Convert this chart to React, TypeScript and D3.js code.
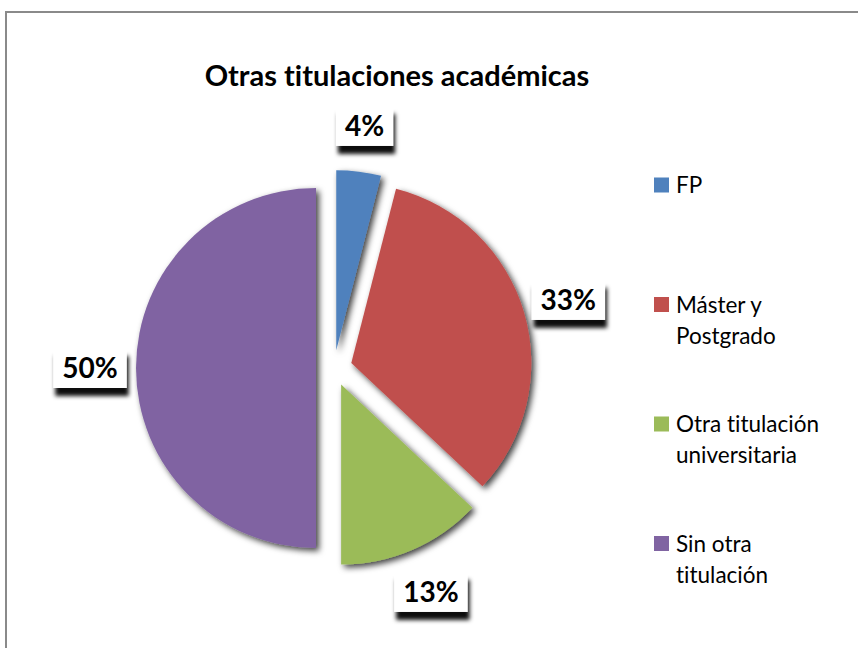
import * as d3 from "d3";
import { useEffect, useRef } from "react";

const categories = ["FP", "Máster y Postgrado", "Otra titulación universitaria", "Sin otra titulación"];
const legendLines = [["FP"], ["Máster y", "Postgrado"], ["Otra titulación", "universitaria"], ["Sin otra", "titulación"]];
const values = [4, 33, 13, 50];
const colors = ["#4F81BD", "#C0504D", "#9BBB59", "#8064A2"];

export default function App() {
  const ref = useRef(null);

  useEffect(() => {
    var width = 858;
    var height = 648;
    var radius = 180;
    var explode = 18;
    var cx = 334;
    var cy = 368;
    var font = "Lato, 'Noto Sans', sans-serif";

    var svg = d3
      .select(ref.current)
      .append("svg")
      .attr("width", width)
      .attr("height", height)
      .style("position", "absolute")
      .style("left", 0)
      .style("top", 0)
      .style("background", "white")
      .style("font-variant-ligatures", "none");

    var defs = svg.append("defs");
    defs
      .append("filter")
      .attr("id", "sliceShadow")
      .attr("x", "-20%")
      .attr("y", "-20%")
      .attr("width", "140%")
      .attr("height", "140%")
      .append("feDropShadow")
      .attr("dx", 3)
      .attr("dy", 3)
      .attr("stdDeviation", 3)
      .attr("flood-color", "black")
      .attr("flood-opacity", 0.75);
    defs
      .append("filter")
      .attr("id", "boxShadow")
      .attr("x", "-30%")
      .attr("y", "-30%")
      .attr("width", "160%")
      .attr("height", "180%")
      .append("feDropShadow")
      .attr("dx", 2)
      .attr("dy", 8)
      .attr("stdDeviation", 2)
      .attr("flood-color", "black")
      .attr("flood-opacity", 0.95);

    // chart border (runs off the right and bottom edges)
    svg
      .append("rect")
      .attr("x", 6)
      .attr("y", 12)
      .attr("width", width + 20)
      .attr("height", height + 20)
      .attr("fill", "white")
      .attr("stroke", "#8a8a8a")
      .attr("stroke-width", 2);

    svg
      .append("text")
      .attr("x", 397)
      .attr("y", 86)
      .attr("text-anchor", "middle")
      .style("font-family", font)
      .style("font-weight", "bold")
      .style("font-size", "29px")
      .text("Otras titulaciones académicas");

    var pie = d3
      .pie<number>()
      .sort(null)
      .value((d) => d);
    var data_ready = pie(values);

    var arc = d3.arc<any>().innerRadius(0).outerRadius(radius);

    var g = svg.append("g").attr("transform", "translate(" + cx + "," + cy + ")");

    var offset = function (d: any, r: number) {
      var mid = (d.startAngle + d.endAngle) / 2;
      return [Math.sin(mid) * r, -Math.cos(mid) * r];
    };

    g.selectAll("path.slice")
      .data(data_ready)
      .enter()
      .append("path")
      .attr("class", "slice")
      .attr("d", arc as any)
      .attr("transform", function (d) {
        var p = offset(d, explode);
        return "translate(" + p + ")";
      })
      .attr("fill", (d, i) => colors[i])
      .attr("filter", "url(#sliceShadow)");

    // data labels in white boxes
    var labels = g
      .selectAll("g.lbl")
      .data(data_ready)
      .enter()
      .append("g")
      .attr("class", "lbl")
      .attr("transform", function (d) {
        var p = offset(d, radius + explode + 46);
        return "translate(" + p + ")";
      });

    labels
      .append("text")
      .attr("text-anchor", "middle")
      .attr("dy", "0.36em")
      .style("font-family", font)
      .style("font-weight", "bold")
      .style("font-size", "28px")
      .text((d) => d.data + "%");

    labels.each(function () {
      var sel = d3.select(this);
      var bb = (sel.select("text").node() as any).getBBox();
      sel
        .insert("rect", "text")
        .attr("x", bb.x - 9)
        .attr("y", -20)
        .attr("width", bb.width + 18)
        .attr("height", 40)
        .attr("fill", "white")
        .attr("filter", "url(#boxShadow)");
    });

    // legend
    var legend = svg
      .selectAll("g.legend")
      .data(categories)
      .enter()
      .append("g")
      .attr("class", "legend")
      .attr("transform", (d, i) => "translate(654," + (185 + i * 119.5) + ")");

    legend
      .append("rect")
      .attr("x", 0)
      .attr("y", -7.5)
      .attr("width", 15)
      .attr("height", 15)
      .attr("fill", (d, i) => colors[i]);

    legend
      .append("text")
      .attr("x", 22)
      .attr("y", 8)
      .style("font-family", font)
      .style("font-size", "22.5px")
      .attr("fill", "black")
      .selectAll("tspan")
      .data((d, i) => legendLines[i])
      .enter()
      .append("tspan")
      .attr("x", 22)
      .attr("dy", (d, j) => (j === 0 ? 0 : 31))
      .text((d) => d);

    return function () {
      svg.remove();
    };
  }, []);

  return <div ref={ref} />;
}
